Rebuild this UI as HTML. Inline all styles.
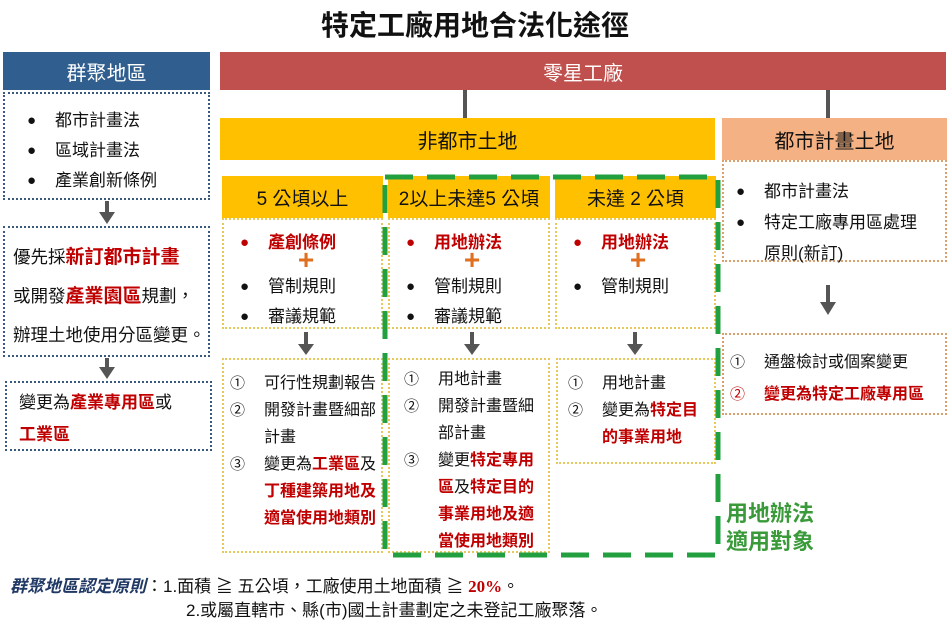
<!DOCTYPE html>
<html><head><meta charset="utf-8"><style>
*{margin:0;padding:0;box-sizing:border-box}
body{width:950px;height:622px;background:#fff;position:relative;overflow:hidden;font-family:"Liberation Sans","Noto Sans CJK TC",sans-serif;color:#111}
.a{position:absolute}
.r{color:#C00000;font-weight:bold}
.hdr{display:flex;align-items:center;justify-content:center}
.dotb{border:2px dotted #3A5A80}
.doty{border:2px dotted #E8C85A}
.doto{border:2px dotted #D9A070}
.txt{font-size:17px;line-height:30px}
ul{list-style:none}
li{position:relative;padding-left:36px}
li.b:before{content:"●";position:absolute;left:8px;font-size:15px}
li.rd:before{color:#C00000}
.n{display:inline-block;width:34px;font-size:15px}
</style></head><body>
<div class="a hdr" style="left:0;top:4px;width:950px;height:40px;font-size:28px;font-weight:bold">特定工廠用地合法化途徑</div>

<div class="a hdr" style="left:3px;top:52px;width:207px;height:38px;background:#2F5E8F;color:#fff;font-size:20px">群聚地區</div>
<div class="a hdr" style="left:220px;top:52px;width:726px;height:38px;background:#C0504D;color:#fff;font-size:20px">零星工廠</div>

<div class="a dotb txt" style="left:3px;top:92px;width:207px;height:108px;padding:12px 0 0 14px"><ul><li class="b">都市計畫法</li><li class="b">區域計畫法</li><li class="b">產業創新條例</li></ul></div>
<svg class="a" style="left:0;top:0" width="950" height="622">
<g fill="#555" stroke="none">
<rect x="105" y="201" width="4" height="13"/><polygon points="99,212 115,212 107,224"/>
<rect x="105" y="358" width="4" height="11"/><polygon points="99,367 115,367 107,379"/>
<rect x="463" y="90" width="4" height="28"/><rect x="826" y="90" width="4" height="28"/>
<rect x="304" y="332" width="4" height="14"/><polygon points="298,344 314,344 306,355"/>
<rect x="470" y="332" width="4" height="14"/><polygon points="464,344 480,344 472,355"/>
<rect x="633" y="332" width="4" height="14"/><polygon points="627,344 643,344 635,355"/>
<rect x="826" y="285" width="4" height="20"/><polygon points="820,302 836,302 828,315"/>
</g>
</svg>
<div class="a dotb" style="left:3px;top:226px;width:207px;height:131px;padding:10px 0 0 8px;font-size:17.5px;line-height:38px">優先採<span class="r" style="font-size:19px">新訂都市計畫</span><br>或開發<span class="r" style="font-size:19px">產業園區</span>規劃，<br>辦理土地使用分區變更。</div>
<div class="a dotb" style="left:5px;top:381px;width:207px;height:70px;padding:4px 0 0 12px;font-size:17px;line-height:32px">變更為<span class="r">產業專用區</span>或<br><span class="r">工業區</span></div>

<div class="a hdr" style="left:220px;top:118px;width:495px;height:42px;background:#FFC000;font-size:20px">非都市土地</div>
<div class="a hdr" style="left:722px;top:118px;width:225px;height:42px;background:#F4B183;font-size:20px">都市計畫土地</div>

<div class="a hdr" style="left:222px;top:176px;width:161px;height:42px;background:#FFC000;font-size:19px">5 公頃以上</div>
<div class="a hdr" style="left:388px;top:176px;width:162px;height:42px;background:#FFC000;font-size:19px">2以上未達5 公頃</div>
<div class="a hdr" style="left:555px;top:176px;width:161px;height:42px;background:#FFC000;font-size:19px">未達 2 公頃</div>

<div class="a doty txt" style="left:222px;top:218px;width:161px;height:111px;padding:8px 0 0 8px"><ul><li class="b rd"><span class="r">產創條例</span></li><li style="height:14px"></li><li class="b">管制規則</li><li class="b">審議規範</li></ul></div>
<div class="a doty txt" style="left:388px;top:218px;width:162px;height:111px;padding:8px 0 0 8px"><ul><li class="b rd"><span class="r">用地辦法</span></li><li style="height:14px"></li><li class="b">管制規則</li><li class="b">審議規範</li></ul></div>
<div class="a doty txt" style="left:555px;top:218px;width:161px;height:111px;padding:8px 0 0 8px"><ul><li class="b rd"><span class="r">用地辦法</span></li><li style="height:14px"></li><li class="b">管制規則</li></ul></div>
<div class="a hdr" style="left:294px;top:250px;width:24px;height:20px;color:#E07020;font-size:28px;font-weight:bold;line-height:20px">+</div>
<div class="a hdr" style="left:460px;top:250px;width:24px;height:20px;color:#E07020;font-size:28px;font-weight:bold;line-height:20px">+</div>
<div class="a hdr" style="left:626px;top:250px;width:24px;height:20px;color:#E07020;font-size:28px;font-weight:bold;line-height:20px">+</div>

<div class="a doty" style="left:222px;top:358px;width:161px;height:195px;padding:10px 0 0 6px;font-size:16px;line-height:27px"><span class="n">①</span>可行性規劃報告<br><span class="n">②</span>開發計畫暨細部<br><span class="n"></span>計畫<br><span class="n">③</span>變更為<span class="r">工業區</span>及<br><span class="n"></span><span class="r">丁種建築用地及</span><br><span class="n"></span><span class="r">適當使用地類別</span></div>
<div class="a doty" style="left:388px;top:358px;width:162px;height:195px;padding:6px 0 0 14px;font-size:16px;line-height:27px"><span class="n">①</span>用地計畫<br><span class="n">②</span>開發計畫暨細<br><span class="n"></span>部計畫<br><span class="n">③</span>變更<span class="r">特定專用</span><br><span class="n"></span><span class="r">區</span>及<span class="r">特定目的</span><br><span class="n"></span><span class="r">事業用地及適</span><br><span class="n"></span><span class="r">當使用地類別</span></div>
<div class="a doty" style="left:556px;top:358px;width:160px;height:106px;padding:10px 0 0 10px;font-size:16px;line-height:27px"><span class="n">①</span>用地計畫<br><span class="n">②</span>變更為<span class="r">特定目</span><br><span class="n"></span><span class="r">的事業用地</span></div>

<div class="a doto txt" style="left:722px;top:160px;width:225px;height:102px;padding:14px 0 0 4px;line-height:31px"><ul><li class="b">都市計畫法</li><li class="b">特定工廠專用區處理<br>原則(新訂)</li></ul></div>
<div class="a doto" style="left:722px;top:333px;width:225px;height:82px;padding:12px 0 0 6px;font-size:16px;line-height:32px"><span class="n">①</span>通盤檢討或個案變更<br><span class="n" style="color:#C00000">②</span><span class="r">變更為特定工廠專用區</span></div>

<svg class="a" style="left:0;top:0" width="950" height="622"><rect x="385" y="177" width="333" height="378" fill="none" stroke="#22A040" stroke-width="5" stroke-dasharray="28,14"/></svg>
<div class="a" style="left:726px;top:500px;color:#3A9A3A;font-size:22px;font-weight:bold;line-height:28px">用地辦法<br>適用對象</div>

<div class="a" style="left:10px;top:575px;font-size:17px;line-height:24px;white-space:nowrap"><span style="color:#1F3864;font-weight:bold;font-style:italic">群聚地區認定原則</span>：1.面積 ≧ 五公頃，工廠使用土地面積 ≧ <span style="color:#C00000;font-weight:bold;font-family:'Liberation Serif',serif">20%</span>。<br><span style="padding-left:176px">2.或屬直轄市、縣(市)國土計畫劃定之未登記工廠聚落。</span></div>
</body></html>
